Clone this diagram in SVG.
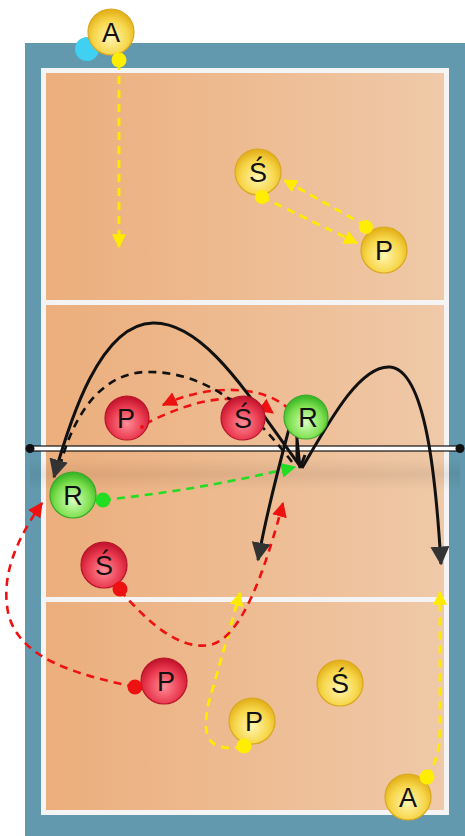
<svg xmlns="http://www.w3.org/2000/svg" width="465" height="836" viewBox="0 0 465 836">
<defs>
<linearGradient id="court" x1="0" y1="0" x2="1" y2="0">
<stop offset="0" stop-color="#ecae7c"/><stop offset="1" stop-color="#efc9a8"/>
</linearGradient>
<linearGradient id="shadow" x1="0" y1="0" x2="0" y2="1">
<stop offset="0" stop-color="#000" stop-opacity="0"/><stop offset="0.5" stop-color="#000" stop-opacity="0.07"/><stop offset="1" stop-color="#000" stop-opacity="0"/>
</linearGradient>
<radialGradient id="gy" cx="50%" cy="62%" r="58%">
<stop offset="0" stop-color="#fff6b0"/><stop offset="0.65" stop-color="#f7d64a"/><stop offset="1" stop-color="#e4b21c"/>
</radialGradient>
<radialGradient id="gr" cx="50%" cy="62%" r="58%">
<stop offset="0" stop-color="#ff8c96"/><stop offset="0.65" stop-color="#ea3a50"/><stop offset="1" stop-color="#c4162e"/>
</radialGradient>
<radialGradient id="gg" cx="50%" cy="62%" r="58%">
<stop offset="0" stop-color="#d8ffc0"/><stop offset="0.65" stop-color="#7fe050"/><stop offset="1" stop-color="#3cb828"/>
</radialGradient>
<marker id="ay" viewBox="0 0 12 12" refX="11" refY="6" markerWidth="14" markerHeight="14" markerUnits="userSpaceOnUse" orient="auto"><path d="M0,0 L12,6 L0,12 Z" fill="#ffeb00"/></marker>
<marker id="ar" viewBox="0 0 12 12" refX="11" refY="6" markerWidth="15" markerHeight="15" markerUnits="userSpaceOnUse" orient="auto"><path d="M0,0 L12,6 L0,12 Z" fill="#ee1111"/></marker>
<marker id="ag" viewBox="0 0 12 12" refX="11" refY="6" markerWidth="15" markerHeight="15" markerUnits="userSpaceOnUse" orient="auto"><path d="M0,0 L12,6 L0,12 Z" fill="#22dd22"/></marker>
<marker id="ak" viewBox="0 0 12 12" refX="11" refY="6" markerWidth="19" markerHeight="19" markerUnits="userSpaceOnUse" orient="auto"><path d="M0,0 L12,6 L0,12 Z" fill="#333"/></marker>
</defs>
<style>
.ball{stroke-width:1.2}
.y{fill:url(#gy);stroke:#d9a81e}
.r{fill:url(#gr);stroke:#b8132a}
.g{fill:url(#gg);stroke:#3aa82a}
.lab{font-family:"Liberation Sans",Arial,sans-serif;font-size:27px;fill:#111;text-anchor:middle}
.dy{stroke:#ffeb00;stroke-width:2.8;fill:none;stroke-dasharray:8 6}
.dr{stroke:#ee1111;stroke-width:2.6;fill:none;stroke-dasharray:8 6}
.dg{stroke:#22dd22;stroke-width:2.6;fill:none;stroke-dasharray:8 6}
.dk{stroke:#111;stroke-width:2.6;fill:none;stroke-dasharray:8 6}
.sk{stroke:#111;stroke-width:3;fill:none}
</style>
<rect x="0" y="0" width="465" height="836" fill="#fff"/>
<rect x="25" y="43" width="440" height="793" fill="#6299ae"/>
<rect x="41" y="68" width="408" height="747" fill="#f4f4f4"/>
<rect x="46" y="73" width="398" height="737" fill="url(#court)"/>
<rect x="46" y="300" width="398" height="5" fill="#f4f4f4"/>
<rect x="46" y="597" width="398" height="5" fill="#f4f4f4"/>
<rect x="30" y="458" width="430" height="32" fill="url(#shadow)"/>
<g id="net">
<rect x="30" y="446" width="430" height="5" fill="#fff" stroke="#111" stroke-width="1.2"/>
<circle cx="30" cy="448.5" r="4.5" fill="#111"/>
<circle cx="460" cy="448.5" r="4.5" fill="#111"/>
</g>
<g id="connectors">
<path class="dy" d="M119,62 L119,247" marker-end="url(#ay)"/>
<path class="dy" d="M262,197 L357,243" marker-end="url(#ay)"/>
<path class="dy" d="M366,226 L284,180" marker-end="url(#ay)"/>
<path class="dy" d="M427,777 C437,762 440,748 440,725 L440,592" marker-end="url(#ay)"/>
<path class="dy" d="M243,747 C205,752 203,735 208,705 L240,593" marker-end="url(#ay)"/>
<path class="dr" d="M120,590 C150,625 180,650 210,645 C242,638 265,570 283,503" marker-end="url(#ar)"/>
<path class="dr" d="M135,687 C80,675 18,660 8,612 C0,570 22,532 42,503" marker-end="url(#ar)"/>
<path class="dr" d="M145,424 C185,404 235,385 273,413" marker-end="url(#ar)"/>
<path class="dr" d="M290,410 C262,383 205,385 163,405" marker-end="url(#ar)"/>
<path class="dg" d="M103,500 Q200,490 295,467" marker-end="url(#ag)"/>
<path class="dk" d="M292,462 C260,420 212,370 145,372 C98,374 72,420 60,466"/>
<path class="sk" d="M300,466 C250,398 205,322 153,323 C100,324 70,420 54,477" marker-end="url(#ak)"/>
<path class="sk" d="M302,468 C330,420 360,365 390,367 C426,370 436,480 441,564" marker-end="url(#ak)"/>
<path class="sk" d="M294,410 C285,445 270,495 258,560" marker-end="url(#ak)"/>
<path class="sk" stroke-width="2" d="M294,410 L300,468 M297,412 L297,462 M300,468 L305,455"/>
</g>
<g id="yA1"><circle cx="87" cy="49" r="12" fill="#3fd0f2"/><circle class="ball y" cx="111" cy="32" r="23"/><text class="lab" x="111" y="42">A</text><circle cx="119" cy="60" r="7.5" fill="#ffee00"/></g>
<g id="yS1"><circle class="ball y" cx="258" cy="172" r="23"/><text class="lab" x="258" y="182">Ś</text><circle cx="262" cy="197" r="7" fill="#ffee00"/></g>
<g id="yP1"><circle class="ball y" cx="384" cy="250" r="23"/><text class="lab" x="384" y="260">P</text><circle cx="366" cy="227" r="7" fill="#ffee00"/></g>
<g id="rP1"><circle class="ball r" cx="127" cy="418" r="22"/><text class="lab" x="126" y="428">P</text><circle cx="142" cy="427" r="2" fill="#ee1111"/></g>
<g id="rS1"><circle class="ball r" cx="243" cy="418" r="22"/><text class="lab" x="243" y="428">Ś</text></g>
<g id="gR1"><circle class="ball g" cx="306" cy="417" r="22"/><text class="lab" x="308" y="427">R</text></g>
<g id="gR2"><circle class="ball g" cx="73" cy="495" r="23"/><text class="lab" x="73" y="505">R</text><circle cx="103" cy="500" r="7.5" fill="#22dd22"/></g>
<g id="rS2"><circle class="ball r" cx="104" cy="565" r="23"/><text class="lab" x="104" y="575">Ś</text><circle cx="120" cy="589" r="7.5" fill="#ee1111"/></g>
<g id="rP2"><circle class="ball r" cx="164" cy="681" r="23"/><text class="lab" x="166" y="691">P</text><circle cx="135" cy="687" r="7.5" fill="#ee1111"/></g>
<g id="yP2"><circle class="ball y" cx="252" cy="721" r="23"/><text class="lab" x="254" y="731">P</text><circle cx="244" cy="746" r="7.5" fill="#ffee00"/></g>
<g id="yS2"><circle class="ball y" cx="340" cy="683" r="23"/><text class="lab" x="340" y="693">Ś</text></g>
<g id="yA2"><circle class="ball y" cx="408" cy="797" r="23"/><text class="lab" x="408" y="807">A</text><circle cx="427" cy="777" r="7.5" fill="#ffee00"/></g>
</svg>
